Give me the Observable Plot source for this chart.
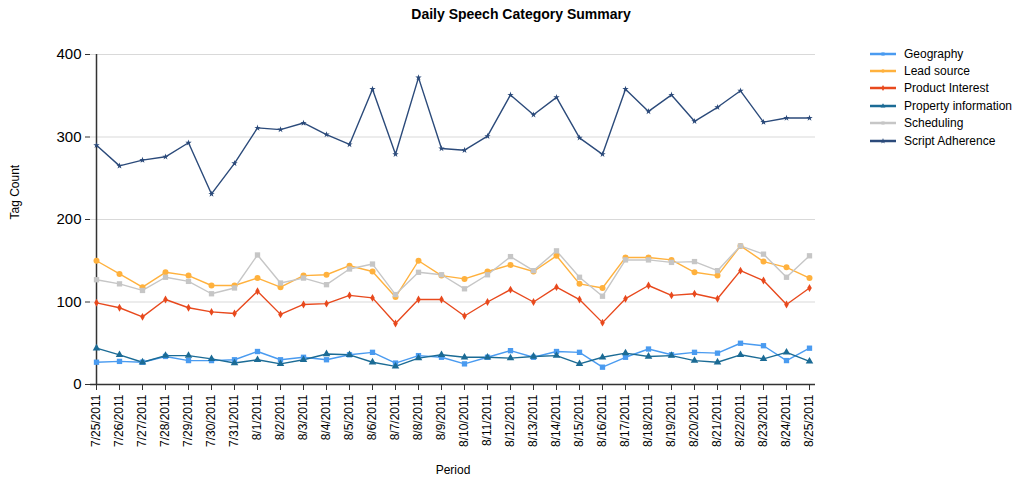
<!DOCTYPE html>
<html>
<head>
<meta charset="utf-8">
<script src="https://cdn.jsdelivr.net/npm/d3@7"></script>
<script src="https://cdn.jsdelivr.net/npm/@observablehq/plot@0.6"></script>
<style>
  body { margin: 0; background: #fff; font-family: "Liberation Sans", Arial, sans-serif; }
  #wrap { position: relative; width: 1031px; height: 479px; overflow: hidden; }
  #title { position: absolute; top: 6px; left: 521px; transform: translateX(-50%); font-size: 14px; font-weight: bold; color: #000; white-space: nowrap; }
  #legend { position: absolute; left: 870px; top: 45px; font-size: 12px; color: #000; }
  #legend .item { height: 17.4px; display: flex; align-items: center; white-space: nowrap; }
  #legend svg { margin-right: 8px; }
  #chart { position: absolute; left: 0; top: 0; }
</style>
</head>
<body>
<div id="wrap">
  <div id="chart"></div>
  <div id="title">Daily Speech Category Summary</div>
  <div id="legend"></div>
</div>
<script>
const dates = ["7/25/2011","7/26/2011","7/27/2011","7/28/2011","7/29/2011","7/30/2011","7/31/2011",
  "8/1/2011","8/2/2011","8/3/2011","8/4/2011","8/5/2011","8/6/2011","8/7/2011","8/8/2011","8/9/2011",
  "8/10/2011","8/11/2011","8/12/2011","8/13/2011","8/14/2011","8/15/2011","8/16/2011","8/17/2011",
  "8/18/2011","8/19/2011","8/20/2011","8/21/2011","8/22/2011","8/23/2011","8/24/2011","8/25/2011"];

const seriesNames = ["Geography","Lead source","Product Interest","Property information","Scheduling","Script Adherence"];
const seriesColors = ["#4a9bf0","#ffb13d","#e8491d","#1b6b95","#c6c6c6","#2b4a7a"];
const seriesSymbols = ["square","circle","diamond","triangle","square","star"];
const seriesMarkerR = [3.0, 3.0, 2.4, 2.8, 3.0, 2.0];

const geography = [27,28,27,34,29,29,30,40,30,33,30,36,39,26,35,33,25,33,41,33,40,39,21,33,43,36,39,38,50,47,29,44];
const leadSource = [150,134,118,136,132,120,120,129,118,132,133,144,137,106,150,132,128,137,145,137,156,122,117,154,154,151,136,132,168,149,142,129];
const productInterest = [99,93,82,103,93,88,86,113,85,97,98,108,105,74,103,103,83,100,115,100,118,103,75,104,120,108,110,104,138,126,97,117];
const propertyInformation = [44,36,27,35,35,31,26,30,25,30,37,36,27,22,32,36,33,33,32,34,35,25,33,38,34,35,29,27,36,31,39,28];
const scheduling = [127,122,114,130,125,110,117,157,123,129,121,140,146,109,136,133,116,133,155,138,162,130,107,151,151,148,149,138,168,158,130,156];
const scriptAdherence = [290,265,272,276,293,231,268,311,309,317,303,291,358,279,372,286,284,301,351,327,348,299,279,358,331,351,319,336,356,318,323,323];

const yTicks = [0,100,200,300,400];

const seriesValues = [geography, leadSource, productInterest, propertyInformation, scheduling, scriptAdherence];
const rows = [];
seriesNames.forEach((name, si) => {
  seriesValues[si].forEach((v, i) => rows.push({series: name, date: dates[i], value: v, r: seriesMarkerR[si]}));
});

const chart = Plot.plot({
  width: 1031,
  height: 479,
  marginLeft: 90,
  marginRight: 216,
  marginTop: 54,
  marginBottom: 95,
  style: {fontFamily: "'Liberation Sans', Arial, sans-serif", fontSize: "12px", color: "#000", background: "transparent"},
  x: {type: "point", domain: dates, padding: 0},
  y: {domain: [0, 400]},
  r: {type: "identity"},
  color: {domain: seriesNames, range: seriesColors},
  symbol: {domain: seriesNames, range: seriesSymbols},
  marks: [
    Plot.gridY(yTicks.filter(d => d > 0), {stroke: "#d9d9d9", strokeOpacity: 1, strokeWidth: 1.2}),
    Plot.axisY(yTicks, {tickSize: 5, tickPadding: 4, fontSize: 15, label: null, stroke: "#333"}),
    Plot.axisX(dates, {tickSize: 6, tickPadding: 4, tickRotate: -90, fontSize: 12, label: null, stroke: "#333"}),
    Plot.ruleY([0], {stroke: "#333", strokeWidth: 1.5}),
    Plot.ruleX([dates[0]], {y1: 0, y2: 400, stroke: "#333", strokeWidth: 1.5}),
    Plot.line(rows, {x: "date", y: "value", z: "series", stroke: "series", strokeWidth: 1.4}),
    Plot.dot(rows, {x: "date", y: "value", fill: "series", symbol: "series", r: "r", stroke: "none"}),
    Plot.text(["Tag Count"], {text: d => d, frameAnchor: "left", dx: -75, rotate: -90, fontSize: 12}),
    Plot.text(["Period"], {text: d => d, frameAnchor: "bottom", dy: 89, fontSize: 12})
  ]
});
document.getElementById("chart").appendChild(chart);

const legend = document.getElementById("legend");
seriesNames.forEach((name, i) => {
  const item = document.createElement("div");
  item.className = "item";
  const sym = d3.symbol().type({square: d3.symbolSquare, circle: d3.symbolCircle, diamond: d3.symbolDiamond, triangle: d3.symbolTriangle, star: d3.symbolStar}[seriesSymbols[i]]).size(10)();
  item.innerHTML = `<svg width="26" height="8"><line x1="0" x2="26" y1="4" y2="4" stroke="${seriesColors[i]}" stroke-width="2.5"/><path transform="translate(13,4)" d="${sym}" fill="${seriesColors[i]}"/></svg><span>${name}</span>`;
  legend.appendChild(item);
});
</script>
</body>
</html>
